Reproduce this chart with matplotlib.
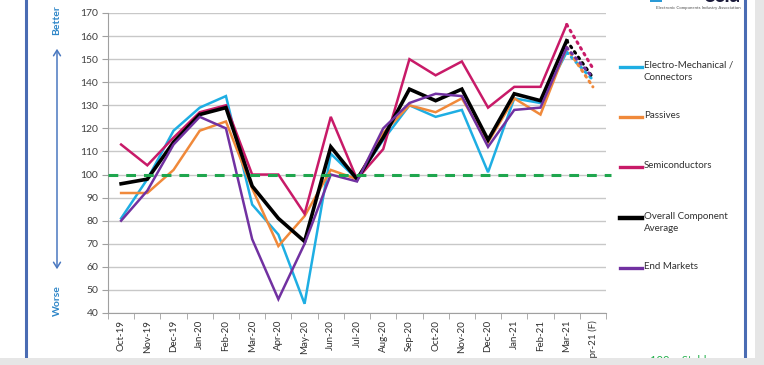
import numpy as np
import matplotlib
matplotlib.use("Agg")
import matplotlib.pyplot as plt
from matplotlib.lines import Line2D
from matplotlib.patches import Rectangle

plt.rcParams['font.family'] = ['Lato', 'DejaVu Sans']

# months, last one is the forecast
months = ['Oct-19', 'Nov-19', 'Dec-19', 'Jan-20', 'Feb-20', 'Mar-20', 'Apr-20',
          'May-20', 'Jun-20', 'Jul-20', 'Aug-20', 'Sep-20', 'Oct-20', 'Nov-20',
          'Dec-20', 'Jan-21', 'Feb-21', 'Mar-21', 'Apr-21 (F)']

electro = [81, 98, 119, 129, 134, 87, 74, 44, 109, 98, 115, 130, 125, 128, 101, 133, 131, 153, 141]
passives = [92, 92, 102, 119, 123, 94, 69, 82, 102, 98, 118, 130, 127, 133, 114, 133, 126, 155, 138]
semis = [113, 104, 116, 127, 130, 100, 100, 83, 125, 98, 111, 150, 143, 149, 129, 138, 138, 165, 146]
overall = [96, 98, 114, 126, 129, 95, 81, 71, 112, 98, 116, 137, 132, 137, 115, 135, 132, 158, 142]
end_markets = [80, 93, 113, 125, 120, 72, 46, 70, 100, 97, 120, 131, 135, 134, 112, 128, 129, 155, 142]

series_names = ['Electro-Mechanical /\nConnectors', 'Passives', 'Semiconductors',
                'Overall Component\nAverage', 'End Markets']
series_vals = [electro, passives, semis, overall, end_markets]
colors = ['#1eaee3', '#f0893a', '#c81a68', '#000000', '#7131a1']
widths = [1.8, 1.8, 1.8, 2.6, 1.8]

fig = plt.figure(figsize=(7.64, 3.65), dpi=100)
fig.patch.set_facecolor('#e6e6e6')

# white card behind the chart
fig.add_artist(Rectangle((0, 7 / 365), 755 / 764, 1, transform=fig.transFigure,
                         facecolor='white', edgecolor='none', zorder=-5))
for xb in [26 / 764, 745 / 764]:
    fig.add_artist(Line2D([xb, xb], [7 / 365, 1], transform=fig.transFigure,
                          color='#4a6cb3', lw=2.2, zorder=-4))

ax = fig.add_axes([108 / 764, 1 - 313 / 365, 498 / 764, 300 / 365])
ax.set_facecolor('none')

x = np.arange(len(months))
n_act = len(months) - 1
for vals, c, w in zip(series_vals, colors, widths):
    vals = np.array(vals)
    ax.plot(x[:n_act], vals[:n_act], color=c, lw=w, zorder=3, solid_joinstyle='miter')
    ax.plot(x[n_act - 1:], vals[n_act - 1:], color=c, lw=2.2,
            linestyle=(0, (0.6, 1.6)), dash_capstyle='round', zorder=3)

ax.plot([-0.5, 18.7], [100, 100], color='#1fa64e', lw=2.2, linestyle=(0, (3.2, 2.6)),
        zorder=4, clip_on=False)

ax.set_xlim(-0.5, 18.5)
ax.set_ylim(40, 170)
ax.set_yticks(np.arange(40, 171, 10))
ax.grid(axis='y', color='#c8c8c8', lw=1)
ax.set_axisbelow(True)
ax.set_xticks(x)
ax.set_xticklabels(months, rotation=90, fontsize=7, color='#303030')
ax.set_xticks(np.arange(-0.5, 19, 1), minor=True)
ax.tick_params(axis='x', which='major', length=0, pad=5)
ax.tick_params(axis='x', which='minor', length=4, color='#a0a0a0')
ax.tick_params(axis='y', labelsize=7.5, labelcolor='#404040', length=4,
               color='#a0a0a0', pad=3)
for s in ['top', 'right']:
    ax.spines[s].set_visible(False)
for s in ['left', 'bottom']:
    ax.spines[s].set_color('#a0a0a0')

# Better / Worse arrow
fig.text(57 / 764, 1 - 20 / 365, 'Better', rotation=90, ha='center', va='center',
         fontsize=7.5, fontweight='bold', color='#2e86c8')
fig.text(57 / 764, 1 - 301 / 365, 'Worse', rotation=90, ha='center', va='center',
         fontsize=7.5, fontweight='bold', color='#2e86c8')
fig.add_artist(plt.matplotlib.patches.FancyArrowPatch(
    (57 / 764, 1 - 272 / 365), (57 / 764, 1 - 46 / 365), transform=fig.transFigure,
    arrowstyle='<->,head_length=4,head_width=2.5', color='#4a78c0', lw=1.1))

# legend drawn by hand to keep Excel's spacing
leg_y = [67, 117, 167, 218, 268]
for name, c, w, ly in zip(series_names, colors, widths, leg_y):
    yy = 1 - ly / 365
    fig.add_artist(Line2D([620 / 764, 642 / 764], [yy, yy], transform=fig.transFigure,
                          color=c, lw=w + 0.6))
    fig.text(644 / 764, yy + 6 / 365, name, ha='left', va='top', fontsize=7,
             color='#303030', linespacing=1.45)

# logo remains at top right
fig.text(656 / 764, 1 - 8 / 365, 'Electronic Components Industry Association',
         fontsize=3.2, color='#505050', ha='left', va='center')
fig.text(740 / 764, 1 + 4 / 365, 'ecia', fontsize=15, fontweight='bold',
         color='#1b1b3a', ha='right', va='center')
fig.add_artist(Rectangle((650 / 764, 1 - 2 / 365), 12 / 764, 10 / 365,
                         transform=fig.transFigure, color='#2a9ad6', lw=0))

fig.text(650 / 764, 1 - 360 / 365, '100 = Stable', fontsize=8, color='#22b04b',
         ha='left', va='center', zorder=2)
# bottom shadow cuts the text like in the screenshot
fig.add_artist(Rectangle((0, 0), 1, 7 / 365, transform=fig.transFigure,
                         facecolor='#e6e6e6', edgecolor='none', zorder=10))

fig.savefig('out.png', dpi=100, facecolor=fig.get_facecolor())
